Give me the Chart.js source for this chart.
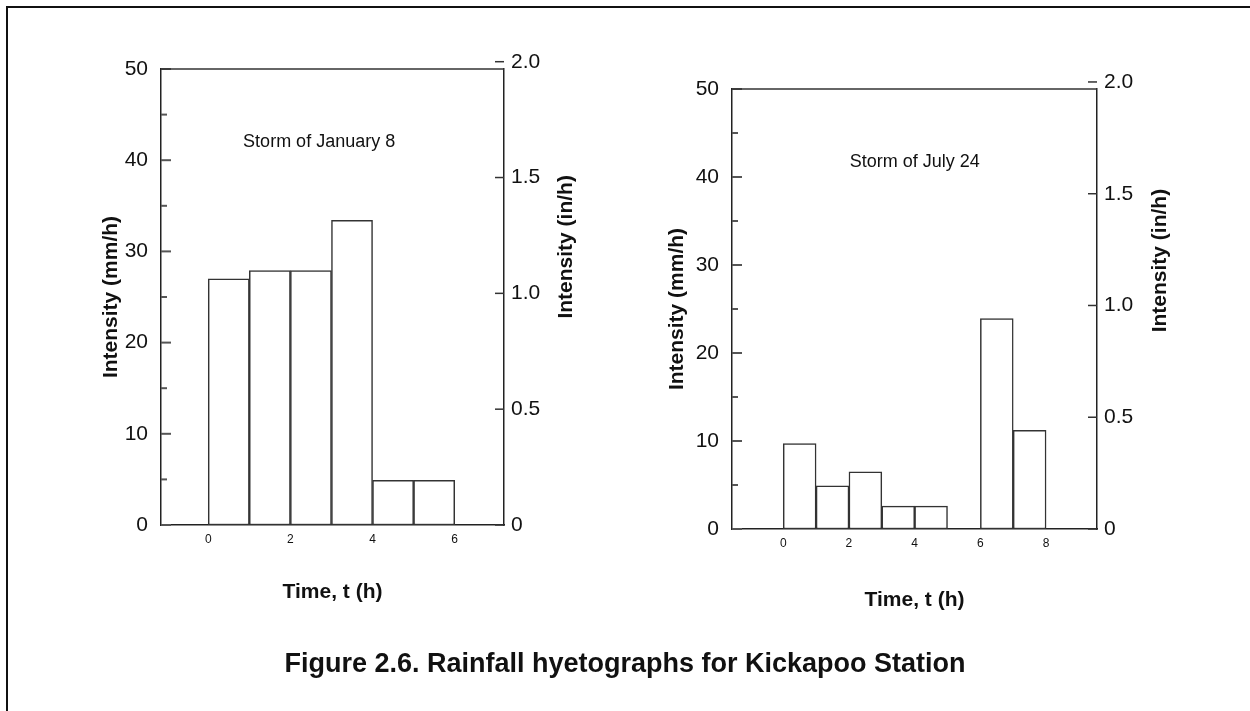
<!DOCTYPE html>
<html>
<head>
<meta charset="utf-8">
<title>Rainfall hyetographs for Kickapoo Station</title>
<script src="https://cdn.jsdelivr.net/npm/chart.js@4.4.1/dist/chart.umd.min.js"></script>
<style>
  html, body { margin: 0; padding: 0; background: #fff; }
  #page { position: relative; width: 1250px; height: 711px; overflow: hidden; font-family: "Liberation Sans", Arial, sans-serif; }
  #frame { position: absolute; left: 6px; top: 6px; width: 1260px; height: 720px; border-top: 2px solid #111; border-left: 2px solid #111; }
  canvas { position: absolute; }
  #chartJan { left: 80px; top: 40px; }
  #chartJul { left: 650px; top: 60px; }
  #caption { position: absolute; left: 0; width: 1250px; top: 648px; text-align: center; font-weight: bold; font-size: 27px; color: #111; }
</style>
</head>
<body>
<div id="page">
  <div id="frame"></div>
  <canvas id="chartJan" width="530" height="590"></canvas>
  <canvas id="chartJul" width="560" height="590"></canvas>
  <div id="caption">Figure 2.6. Rainfall hyetographs for Kickapoo Station</div>
</div>
<script>
// hour at which each 1-h block starts, and its intensity in mm/h
const hourStartJan = [0, 1, 2, 3, 4, 5];
const intensityJan = [27.0, 27.9, 27.9, 33.4, 4.9, 4.9];
const hourStartJul = [0, 1, 2, 3, 4, 6, 7];
const intensityJul = [9.7, 4.9, 6.5, 2.6, 2.6, 23.9, 11.2];

const timeTicksJan = [0, 2, 4, 6];
const timeTicksJul = [0, 2, 4, 6, 8];
const mmTicks = [0, 10, 20, 30, 40, 50];
const mmMinorTicks = [5, 15, 25, 35, 45];
const inTicks = [0, 0.5, 1.0, 1.5, 2.0];
const MM_PER_IN = 25.4;

const FONT = "'Liberation Sans', Arial, sans-serif";
const INK = "#111";

// tick marks point into the plot, like the original drawing
const inwardTicks = {
  id: "inwardTicks",
  afterDraw(chart) {
    const { ctx, chartArea, scales } = chart;
    const line = (x1, y1, x2, y2) => {
      ctx.beginPath();
      ctx.moveTo(x1, y1);
      ctx.lineTo(x2, y2);
      ctx.stroke();
    };
    ctx.save();
    ctx.strokeStyle = "#555";
    ctx.lineWidth = 2;
    mmTicks.forEach((v) => {
      const y = scales.y.getPixelForValue(v);
      line(chartArea.left, y, chartArea.left + 10, y);
    });
    mmMinorTicks.forEach((v) => {
      const y = scales.y.getPixelForValue(v);
      line(chartArea.left, y, chartArea.left + 6, y);
    });
    ctx.lineWidth = 1.5;
    ctx.strokeStyle = "#333";
    inTicks.forEach((v) => {
      const y = scales.y2.getPixelForValue(v);
      line(chartArea.right - 9, y, chartArea.right, y);
    });
    // top edge of the box
    line(chartArea.left, chartArea.top, chartArea.right, chartArea.top);
    ctx.restore();
  }
};

// storm label inside the plot and the in/h title on the right
const figureText = {
  id: "figureText",
  afterDraw(chart, args, opts) {
    const { ctx, chartArea, scales } = chart;
    ctx.save();
    ctx.fillStyle = INK;
    ctx.textAlign = "center";
    ctx.textBaseline = "middle";
    ctx.font = `18px ${FONT}`;
    ctx.fillText(opts.note, scales.x.getPixelForValue(opts.noteAt[0]), scales.y.getPixelForValue(opts.noteAt[1]));

    ctx.translate(chart.width - opts.rightInset, chartArea.top + opts.rightAt * chartArea.height);
    ctx.rotate(-Math.PI / 2);
    ctx.font = `bold 21px ${FONT}`;
    ctx.fillText("Intensity (in/h)", 0, 0);
    ctx.restore();
  }
};

function buildChart(id, starts, values, timeTicks, layout) {
  return new Chart(document.getElementById(id), {
    type: "bar",
    data: {
      datasets: [{
        data: starts.map((h, i) => ({ x: h + 0.5, y: values[i] })),
        backgroundColor: "#fff",
        borderColor: "#333",
        borderWidth: 1.5,
        borderSkipped: false,
        barPercentage: 1,
        categoryPercentage: 1
      }]
    },
    plugins: [inwardTicks, figureText],
    options: {
      responsive: false,
      animation: false,
      layout: { padding: { top: 29, left: 0, right: 0, bottom: 0 } },
      plugins: {
        legend: { display: false },
        tooltip: { enabled: false },
        figureText: {
          note: layout.note,
          noteAt: layout.noteAt,
          rightInset: layout.rightInset,
          rightAt: 0.39
        }
      },
      scales: {
        x: {
          type: "linear",
          offset: false,
          min: layout.xMin,
          max: layout.xMax,
          afterBuildTicks: (axis) => { axis.ticks = timeTicks.map((v) => ({ value: v })); },
          afterFit: (axis) => { axis.height = layout.bottom; },
          grid: { display: false, drawTicks: false },
          border: { display: true, color: "#222", width: 1.5 },
          ticks: { color: INK, font: { family: FONT, size: 12 }, padding: 7, autoSkip: false, maxRotation: 0 },
          title: {
            display: true,
            text: "Time, t (h)",
            color: INK,
            font: { family: FONT, size: 21, weight: "bold" },
            padding: { top: 0, bottom: layout.xTitlePad }
          }
        },
        y: {
          position: "left",
          min: 0,
          max: 50,
          afterBuildTicks: (axis) => { axis.ticks = mmTicks.map((v) => ({ value: v })); },
          afterFit: (axis) => { axis.width = layout.left; },
          grid: { display: false, drawTicks: false },
          border: { display: true, color: "#222", width: 1.5 },
          ticks: { color: INK, font: { family: FONT, size: 21 }, padding: 13, autoSkip: false },
          title: {
            display: true,
            text: "Intensity (mm/h)",
            color: INK,
            font: { family: FONT, size: 21, weight: "bold" },
            padding: { top: layout.yTitlePad, bottom: 0 }
          }
        },
        y2: {
          position: "right",
          min: 0,
          max: 50 / MM_PER_IN,
          afterBuildTicks: (axis) => { axis.ticks = inTicks.map((v) => ({ value: v })); },
          afterFit: (axis) => { axis.width = layout.right; },
          grid: { display: false, drawTicks: false },
          border: { display: true, color: "#222", width: 1.5 },
          ticks: {
            color: INK,
            font: { family: FONT, size: 21 },
            padding: 7,
            autoSkip: false,
            callback: (v) => (v === 0 ? "0" : v.toFixed(1))
          }
        }
      }
    }
  });
}

buildChart("chartJan", hourStartJan, intensityJan, timeTicksJan, {
  xMin: -1.15, xMax: 7.2,
  left: 81, right: 106, bottom: 105,
  xTitlePad: 25, yTitlePad: 19,
  rightInset: 44,
  note: "Storm of January 8", noteAt: [2.7, 42]
});

buildChart("chartJul", hourStartJul, intensityJul, timeTicksJul, {
  xMin: -1.56, xMax: 9.55,
  left: 82, right: 113, bottom: 121,
  xTitlePad: 37, yTitlePad: 15,
  rightInset: 50,
  note: "Storm of July 24", noteAt: [4.0, 41.7]
});
</script>
</body>
</html>
